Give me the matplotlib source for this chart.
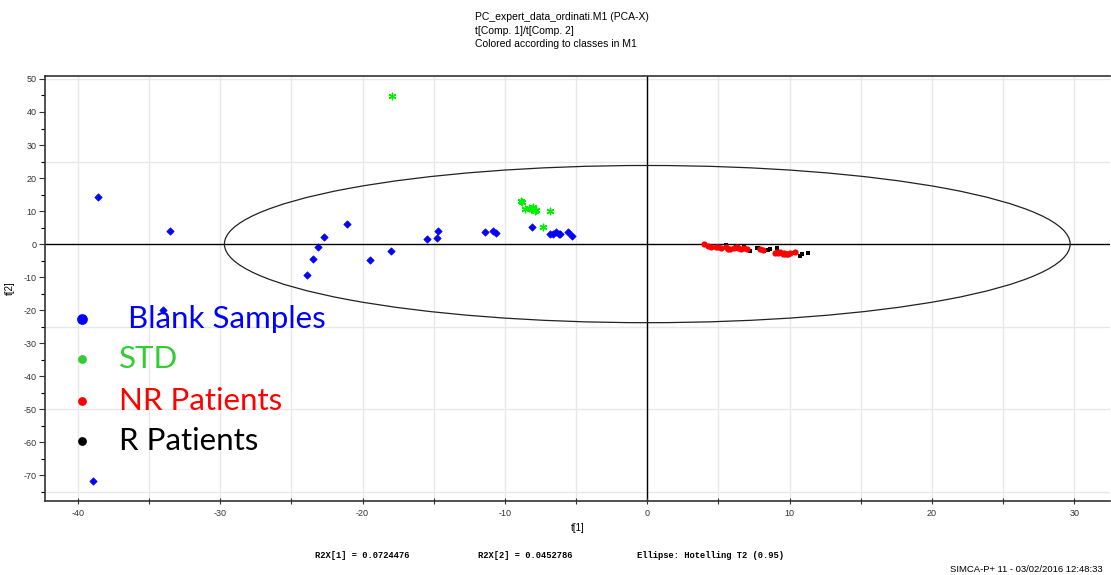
import matplotlib
matplotlib.use("Agg")
import matplotlib.pyplot as plt
from matplotlib.patches import Ellipse
from matplotlib.ticker import MultipleLocator

plt.rcParams["axes.unicode_minus"] = False

# ---- data (t[1], t[2]) ----
blank_x = [-38.55, -33.5, -34.0, -38.9, -21.1, -22.7, -23.1, -23.5, -23.9, -19.5, -18.0,
           -15.5, -14.8, -14.7, -11.4, -10.8, -10.6, -8.1, -6.8, -6.6, -6.4, -6.2, -6.1, -5.6, -5.3]
blank_y = [14.2, 3.9, -20.0, -71.8, 6.0, 2.0, -0.9, -4.5, -9.3, -4.8, -2.1,
           1.4, 1.8, 4.1, 3.6, 3.9, 3.4, 5.2, 3.0, 3.2, 3.6, 3.2, 3.2, 3.6, 2.4]

std_x = [-17.9, -8.9, -8.8, -8.6, -8.3, -8.2, -8.1, -7.9, -7.8, -8.0, -6.8, -7.35]
std_y = [44.8, 13.0, 12.6, 10.5, 11.0, 10.5, 10.7, 10.0, 10.2, 11.3, 9.9, 5.2]

nr_x = [4.0, 4.3, 4.5, 4.8, 5.0, 5.2, 5.5, 5.7, 5.8, 6.1, 6.3, 6.4, 6.6, 6.8, 7.0, 7.9,
        8.1, 9.0, 9.1, 9.2, 9.35, 9.5, 9.6, 9.7, 9.8, 9.9, 10.0, 10.4]
nr_y = [-0.1, -0.6, -0.8, -1.0, -0.9, -1.3, -1.0, -1.5, -1.4, -1.3, -1.0, -1.2, -1.6, -1.2, -1.5, -1.5,
        -1.9, -2.6, -2.3, -2.8, -2.5, -3.0, -2.7, -3.1, -2.9, -3.1, -2.8, -2.4]

r_x = [5.5, 6.2, 6.8, 7.2, 7.7, 7.8, 8.2, 8.5, 8.6, 9.1, 10.2, 10.7, 10.9, 11.3]
r_y = [-0.3, -0.6, -0.8, -2.1, -1.3, -1.3, -2.0, -1.8, -1.5, -1.3, -2.8, -3.5, -3.1, -2.6]

ellipse_a, ellipse_b = 29.7, 23.8

legend_labels = ["Blank Samples", "STD", "NR Patients", "R Patients"]
legend_text_colors = ["#0000ff", "#33cc33", "#ff0000", "#000000"]
legend_y = [-22.6, -34.7, -47.5, -59.6]

title_lines = ["PC_expert_data_ordinati.M1 (PCA-X)", "t[Comp. 1]/t[Comp. 2]",
               "Colored according to classes in M1"]

fig = plt.figure(figsize=(11.11, 5.75), dpi=100)
ax = fig.add_axes([45/1111, 1-501/575, (1110-45)/1111, (501-76)/575])

ax.set_xlim(-42.3, 32.5)
ax.set_ylim(-77.8, 50.9)

# grid
for gx in range(-40, 35, 5):
    ax.axvline(gx, color="#e8e8e8", lw=1, zorder=0)
for gy in [-75, -50, -25, 25, 50]:
    ax.axhline(gy, color="#e8e8e8", lw=1, zorder=0)
ax.axhline(0, color="black", lw=1, zorder=1)
ax.axvline(0, color="black", lw=1, zorder=1)

ax.add_patch(Ellipse((0, 0), 2*ellipse_a, 2*ellipse_b, fill=False, ec="#222222", lw=0.9, zorder=2))

ax.scatter(blank_x, blank_y, marker="D", s=14, c="#0000ff", edgecolors="#0000ff", lw=0.5, zorder=3)
ax.scatter(std_x, std_y, marker=(6, 2, 0), s=22, c="#00ee00", lw=1.0, zorder=3)
ax.scatter(r_x, r_y, marker="s", s=10, c="#000000", lw=0, zorder=3)
ax.scatter(nr_x, nr_y, marker="o", s=20, c="#ff0000", lw=0, zorder=4)

# legend drawn as text
bullet_sizes = [60, 40, 40, 40]
text_x = [-36.5, -37.1, -37.1, -37.1]
for lab, col, ly, bs, tx in zip(legend_labels, legend_text_colors, legend_y, bullet_sizes, text_x):
    ax.scatter([-39.7], [ly], s=bs, c=col, lw=0, zorder=5)
    ax.text(tx, ly, lab, color=col, fontsize=22.5, family=["Lato", "DejaVu Sans"],
            va="center", ha="left", zorder=5)

# spines
ax.spines["right"].set_visible(False)
for s in ["left", "bottom", "top"]:
    ax.spines[s].set_color("#333333")
    ax.spines[s].set_linewidth(1.2)

ax.xaxis.set_major_locator(MultipleLocator(10))
ax.xaxis.set_minor_locator(MultipleLocator(5))
ax.yaxis.set_major_locator(MultipleLocator(10))
ax.yaxis.set_minor_locator(MultipleLocator(5))
ax.tick_params(axis="x", which="both", direction="inout", length=5, width=0.8, labelsize=6.5,
               pad=3, colors="#333333")
ax.tick_params(axis="y", which="major", direction="out", length=4, width=0.8, labelsize=6.5,
               pad=2, colors="#333333")
ax.tick_params(axis="y", which="minor", direction="out", length=3, width=0.8)
for lab in ax.get_xticklabels() + ax.get_yticklabels():
    lab.set_family(["Liberation Sans", "DejaVu Sans"])

ax.set_xlabel("t[1]", fontsize=7, family=["Liberation Sans", "DejaVu Sans"], labelpad=4)
ax.set_ylabel("t[2]", fontsize=7, family=["Liberation Sans", "DejaVu Sans"], labelpad=6)

for i, line in enumerate(title_lines):
    fig.text(475/1111, 1-(17+13.5*i)/575, line, fontsize=7.5, ha="left", va="center",
             family=["Liberation Sans", "DejaVu Sans"])

mono = ["Liberation Mono", "DejaVu Sans Mono"]
fig.text(315/1111, 1-555/575, "R2X[1] = 0.0724476", fontsize=6.3, family=mono, va="center", weight="bold")
fig.text(478/1111, 1-555/575, "R2X[2] = 0.0452786", fontsize=6.3, family=mono, va="center", weight="bold")
fig.text(637/1111, 1-555/575, "Ellipse: Hotelling T2 (0.95)", fontsize=6.3, family=mono, va="center", weight="bold")
fig.text(1103/1111, 1-570/575, "SIMCA-P+ 11 - 03/02/2016 12:48:33", fontsize=6.8, ha="right", va="center",
         family=["Liberation Sans", "DejaVu Sans"])

fig.savefig("out.png", dpi=100)
